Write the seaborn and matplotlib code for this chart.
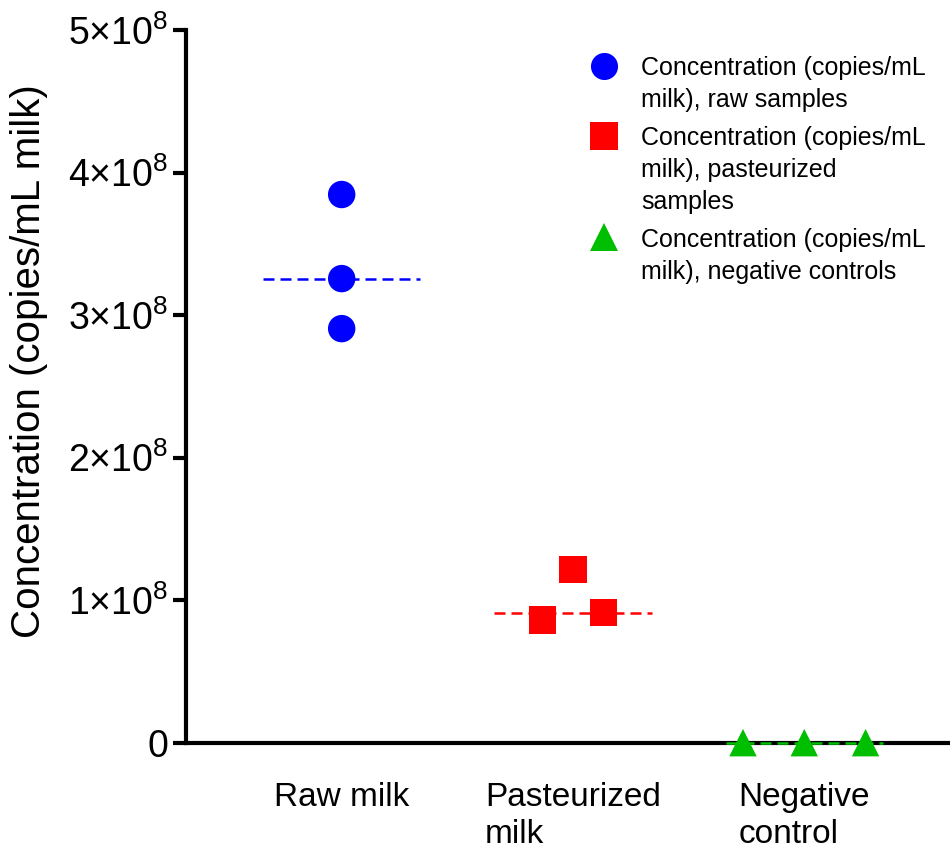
import numpy as np
import pandas as pd
import seaborn as sns
import matplotlib.pyplot as plt
from matplotlib.lines import Line2D

# Data (copies/mL milk)
groups = ["Raw milk", "Pasteurized\nmilk", "Negative\ncontrol"]
raw_values = [3.846e8, 3.256e8, 2.905e8]
pasteurized_values = [1.216e8, 0.860e8, 0.912e8]
negative_values = [0.0, 0.0, 0.0]
legend_labels = [
    "Concentration (copies/mL\nmilk), raw samples",
    "Concentration (copies/mL\nmilk), pasteurized\nsamples",
    "Concentration (copies/mL\nmilk), negative controls",
]
y_ticks = [0, 1e8, 2e8, 3e8, 4e8, 5e8]
y_tick_labels = ["0", "1×10$^{8}$", "2×10$^{8}$", "3×10$^{8}$", "4×10$^{8}$", "5×10$^{8}$"]

colors = ["#0000FF", "#FF0000", "#00BF00"]
markers = ["o", "s", "^"]

sns.set_theme(style="ticks")
plt.rcParams["font.family"] = ["Liberation Sans", "DejaVu Sans"]
plt.rcParams["mathtext.fontset"] = "custom"
plt.rcParams["mathtext.rm"] = "Liberation Sans"
plt.rcParams["mathtext.it"] = "Liberation Sans:italic"
plt.rcParams["mathtext.bf"] = "Liberation Sans:bold"
for key in ["text.color", "axes.labelcolor", "xtick.color", "ytick.color",
            "xtick.labelcolor", "ytick.labelcolor"]:
    plt.rcParams[key] = "black"


def spread(values, tol=0.19e8, step=0.265):
    # spread overlapping points side by side, like a column scatter
    values = np.asarray(values)
    order = np.argsort(values, kind="stable")
    offsets = np.zeros(len(values))
    clusters = []
    for idx in order:
        if clusters and values[idx] - values[clusters[-1][-1]] < tol:
            clusters[-1].append(idx)
        else:
            clusters.append([idx])
    for c in clusters:
        for k, idx in enumerate(c):
            offsets[idx] = (k - (len(c) - 1) / 2) * step
    return offsets


all_values = [raw_values, pasteurized_values, negative_values]
rows = []
for i, (g, vals) in enumerate(zip(groups, all_values)):
    for v, off in zip(vals, spread(vals)):
        rows.append({"group": g, "value": v, "pos": i + off})
df = pd.DataFrame(rows)

fig = plt.figure(figsize=(9.5, 8.48), dpi=100)
ax = fig.add_axes([0.1958, 0.1242, 0.8042, 0.8404])

# median lines
for i, vals in enumerate(all_values):
    ax.hlines(np.median(vals), i - 0.34, i + 0.34, colors=colors[i],
              linestyles=(0, (4.4, 2.4)), linewidth=1.8, zorder=3, clip_on=False)

sns.scatterplot(data=df, x="pos", y="value", hue="group", style="group",
                palette=dict(zip(groups, colors)), markers=dict(zip(groups, markers)),
                s=390, linewidth=0, legend=False, ax=ax, zorder=4, clip_on=False)

ax.set_xlim(-0.673, 2.63)
ax.set_ylim(0, 5e8)
ax.set_xticks(range(len(groups)))
ax.set_xticklabels(groups, fontsize=24, multialignment="left", linespacing=1.25)
ax.set_yticks(y_ticks)
ax.set_yticklabels(y_tick_labels, fontsize=27)
ax.set_xlabel("")
ax.set_ylabel("Concentration (copies/mL milk)", fontsize=29)
ax.yaxis.set_label_coords(-0.181, 0.536)

for side in ["top", "right"]:
    ax.spines[side].set_visible(False)
for side in ["left", "bottom"]:
    ax.spines[side].set_linewidth(3)
    ax.spines[side].set_color("black")
ax.tick_params(axis="x", length=0, pad=28, colors="black")
ax.tick_params(axis="y", length=9.5, width=3, pad=3.5, colors="black")

handles = [Line2D([], [], marker=m, color=c, linestyle="none", markersize=19.5,
                  markeredgewidth=0) for m, c in zip(markers, colors)]
leg = ax.legend(handles, legend_labels, loc="upper left", bbox_to_anchor=(0.521, 0.963),
                frameon=False, fontsize=18, handlelength=1.6, handletextpad=0.68,
                labelspacing=0.55, borderpad=0, borderaxespad=0, labelcolor="black")
# put each marker next to the first line of its label
for h, t in zip(leg.legend_handles, leg.get_texts()):
    t.set_linespacing(1.42)
    n = t.get_text().count("\n")
    h.set_ydata(np.asarray(h.get_ydata()) + n / 2 * 22.3 + 2.9)

fig.savefig("out.png", dpi=100, facecolor="white")
